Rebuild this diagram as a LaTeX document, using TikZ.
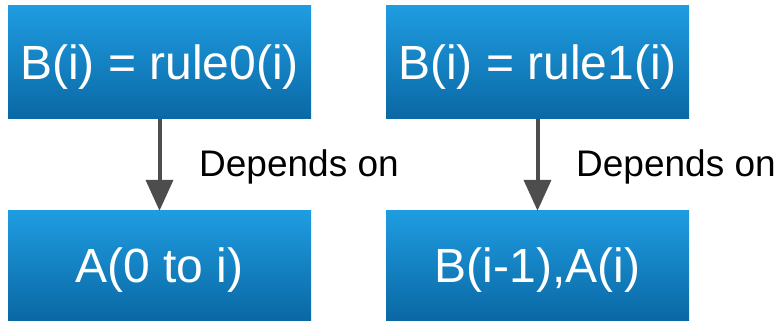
\documentclass[tikz,border=0pt]{standalone}
\usepackage{fontspec}
\setmainfont{Liberation Sans}
\usetikzlibrary{arrows.meta}
\definecolor{boxtop}{RGB}{31,156,225}
\definecolor{boxbot}{RGB}{10,104,164}
\definecolor{arrowgray}{RGB}{77,77,77}
\tikzset{
  box/.style={rectangle, draw=none, top color=boxtop, bottom color=boxbot,
    minimum width=303pt, inner sep=0pt, text=white,
    font=\fontsize{48pt}{52pt}\selectfont, text height=35pt, text depth=0pt},
  dep/.style={draw=arrowgray, line width=4pt, -{Triangle[width=27pt,length=31pt]}},
  lbl/.style={anchor=base west, inner sep=0pt, font=\fontsize{37pt}{41pt}\selectfont}
}
\begin{document}
\begin{tikzpicture}[x=1pt,y=1pt]
\useasboundingbox (0,0) rectangle (783,321);
\node[box, minimum height=113pt] (r0) at (159.5,258.5) {B(i) = rule0(i)};
\node[box, minimum height=113pt] (r1) at (537.5,258.5) {B(i) = rule1(i)};
\node[box, minimum height=109pt] (a0) at (159.5,55.5) {A(0 to i)};
\node[box, minimum height=109pt] (b1) at (537.5,55.5) {B(i-1),A(i)};
\draw[dep] (r0.south) -- (a0.north);
\draw[dep] (r1.south) -- (b1.north);
\node[lbl] (l0) at (199,144) {Depends on};
\node[lbl] (l1) at (576,144) {Depends on};
\end{tikzpicture}
\end{document}
